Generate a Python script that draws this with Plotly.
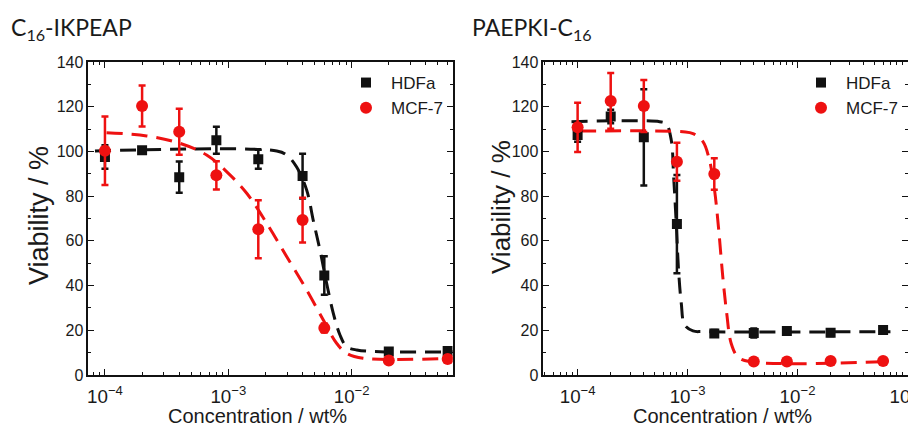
import plotly.graph_objects as go
from plotly.subplots import make_subplots

W, H = 916, 427
OFF_X = 8  # the page body shifts the figure 8px right ...
OFF_Y = 8  # ... and 8px down

# ---- C16-IKPEAP (left panel) ----
conc_a = [1e-4, 2e-4, 4e-4, 8e-4, 1.75e-3, 4e-3, 6e-3, 2e-2, 6e-2]
hdfa_a = [97.5, 100.5, 88.5, 105.0, 96.5, 89.0, 44.5, 10.5, 10.7]
hdfa_a_err = [5.3, 1.2, 7.0, 6.0, 4.2, 10.0, 8.6, 1.5, 1.2]
mcf7_a = [100.3, 120.3, 108.8, 89.3, 65.2, 69.3, 21.0, 6.5, 7.2]
mcf7_a_err = [15.3, 9.2, 10.3, 6.3, 13.0, 10.0, 2.0, 1.5, 1.5]

# fitted curves
fit_hdfa_a_x = [8.3e-5, 2.47e-3, 2.97e-3, 3.58e-3, 4.32e-3, 4.89e-3, 5.53e-3,
                6.27e-3, 7.10e-3, 8.04e-3, 9.10e-3, 1.10e-2, 1.70e-2, 6.59e-2]
fit_hdfa_a_y = [100.2, 100.2, 98.4, 93.0, 82.7, 69.0, 56.0,
                41.0, 27.6, 17.9, 12.7, 11.2, 10.4, 10.4]
fit_mcf7_a_x = [1.03e-4, 2.18e-4, 4.06e-4, 6.67e-4, 9.68e-4, 1.41e-3, 2.05e-3,
                2.97e-3, 4.32e-3, 5.89e-3, 7.55e-3, 9.10e-3, 1.24e-2, 6.59e-2]
fit_mcf7_a_y = [108.4, 106.9, 103.6, 98.4, 91.0, 81.3, 67.8,
                53.0, 38.0, 24.6, 14.2, 9.7, 7.5, 7.5]

# ---- PAEPKI-C16 (right panel) ----
conc_b = [1e-4, 2e-4, 4e-4, 8e-4, 1.75e-3, 4e-3, 8e-3, 2e-2, 6e-2]
hdfa_b = [107.3, 115.6, 106.3, 67.5, 18.6, 18.8, 19.7, 18.9, 20.1]
hdfa_b_err = [3.0, 3.0, 21.5, 22.0, 1.5, 2.0, 1.5, 1.5, 1.5]
mcf7_b = [110.8, 122.6, 120.3, 95.4, 89.9, 6.0, 6.0, 6.3, 6.3]
mcf7_b_err = [11.0, 12.5, 11.6, 8.5, 7.0, 1.0, 1.0, 1.0, 1.0]

fit_hdfa_b_x = [8.8e-5, 5.57e-4, 6.41e-4, 7.11e-4, 7.47e-4, 7.89e-4, 8.28e-4,
                8.77e-4, 9.40e-4, 1.12e-3, 1.38e-3, 7.0e-2]
fit_hdfa_b_y = [113.3, 113.3, 112.3, 105.0, 88.7, 67.8, 47.0,
                32.0, 22.4, 19.7, 19.4, 19.4]
fit_mcf7_b_x = [1.05e-4, 9.08e-4, 1.12e-3, 1.38e-3, 1.58e-3, 1.76e-3, 1.92e-3,
                2.09e-3, 2.27e-3, 2.49e-3, 2.86e-3, 3.65e-3, 6.78e-2]
fit_mcf7_b_y = [109.1, 108.8, 108.0, 104.4, 96.2, 82.7, 64.9,
                44.0, 27.6, 14.2, 8.2, 6.0, 6.0]

BLACK = "#111111"
RED = "#ee1111"
TEXT = "#1a1a1a"
FONT = "Arial, Liberation Sans, sans-serif"
TITLE_FONT = "Lato, Noto Sans, sans-serif"


def px(x):  # screen x -> paper fraction
    return (x - OFF_X) / W


def py(y):  # screen y (from top) -> paper fraction
    return 1 - (y - OFF_Y) / H


fig = make_subplots(rows=1, cols=2)


def add_panel(col, conc, hdfa, hdfa_err, mcf7, mcf7_err,
              fhx, fhy, fmx, fmy, legend):
    # dashed fit lines
    fig.add_trace(go.Scatter(x=fhx, y=fhy, mode="lines", line_shape="spline",
                             line=dict(color=BLACK, width=3, dash="16px,9px"),
                             showlegend=False, hoverinfo="skip"), row=1, col=col)
    fig.add_trace(go.Scatter(x=fmx, y=fmy, mode="lines", line_shape="spline",
                             line=dict(color=RED, width=3, dash="16px,9px"),
                             showlegend=False, hoverinfo="skip"), row=1, col=col)
    # measured points
    fig.add_trace(go.Scatter(x=conc, y=hdfa, mode="markers", name="HDFa",
                             marker=dict(symbol="square", size=10, color=BLACK),
                             error_y=dict(type="data", array=hdfa_err, color=BLACK,
                                          thickness=2.5, width=3.5),
                             legend=legend), row=1, col=col)
    fig.add_trace(go.Scatter(x=conc, y=mcf7, mode="markers", name="MCF-7",
                             marker=dict(symbol="circle", size=12, color=RED),
                             error_y=dict(type="data", array=mcf7_err, color=RED,
                                          thickness=2.5, width=3.5),
                             legend=legend), row=1, col=col)


add_panel(1, conc_a, hdfa_a, hdfa_a_err, mcf7_a, mcf7_a_err,
          fit_hdfa_a_x, fit_hdfa_a_y, fit_mcf7_a_x, fit_mcf7_a_y, "legend")
add_panel(2, conc_b, hdfa_b, hdfa_b_err, mcf7_b, mcf7_b_err,
          fit_hdfa_b_x, fit_hdfa_b_y, fit_mcf7_b_x, fit_mcf7_b_y, "legend2")

xax = dict(type="log", dtick=1, exponentformat="power", showexponent="all",
           showline=True, linecolor=BLACK, linewidth=1.5, mirror="allticks",
           ticks="inside", ticklen=6, tickwidth=1.2, tickcolor=BLACK,
           minor=dict(dtick="D1", ticks="inside", ticklen=3, tickcolor=BLACK,
                      tickwidth=1),
           showgrid=False, zeroline=False, ticklabeloverflow="allow",
           ticklabelstandoff=4,
           tickfont=dict(family=FONT, size=15, color=TEXT))
yax = dict(range=[0, 140], dtick=20, showline=True, linecolor=BLACK,
           linewidth=1.5, mirror="allticks", ticks="inside", ticklen=6,
           tickwidth=1.2, tickcolor=BLACK,
           minor=dict(dtick=10, ticks="inside", ticklen=3, tickcolor=BLACK,
                      tickwidth=1),
           showgrid=False, zeroline=False,
           tickfont=dict(family=FONT, size=16, color=TEXT))

fig.update_xaxes(xax)
fig.update_yaxes(yax)
fig.update_xaxes(range=[-4.135, -1.181], domain=[px(88.3), px(452.7)], row=1, col=1)
fig.update_xaxes(range=[-4.312, -0.998], domain=[px(543.3), px(907.7)], row=1, col=2)
fig.update_yaxes(domain=[py(375), py(62)])

leg = dict(bgcolor="rgba(0,0,0,0)", font=dict(family=FONT, size=17, color=TEXT),
           xanchor="left", yanchor="top", tracegroupgap=0, itemwidth=40)


def note(text, x, y, size, family=FONT, angle=0, xanchor="center"):
    return dict(text=text, x=px(x), y=py(y), xref="paper", yref="paper",
                xanchor=xanchor, yanchor="middle", showarrow=False,
                textangle=angle, font=dict(family=family, size=size, color=TEXT))


fig.update_layout(
    width=W, height=H,
    margin=dict(l=0, r=0, t=0, b=0, autoexpand=False),
    paper_bgcolor="white", plot_bgcolor="white",
    legend=dict(leg, x=px(341), y=py(65)),
    legend2=dict(leg, x=px(796), y=py(65)),
    annotations=[
        note("C<sub>16</sub>-IKPEAP", 9, 28, 23, TITLE_FONT, xanchor="left"),
        note("PAEPKI-C<sub>16</sub>", 470, 28, 23, TITLE_FONT, xanchor="left"),
        note("Viability / %", 39, 216, 27, angle=-90),
        note("Viability / %", 501, 207, 26, angle=-90),
        note("Concentration / wt%", 257, 416, 20),
        note("Concentration / wt%", 722, 416, 20),
    ],
)

fig.write_html("out.html")
